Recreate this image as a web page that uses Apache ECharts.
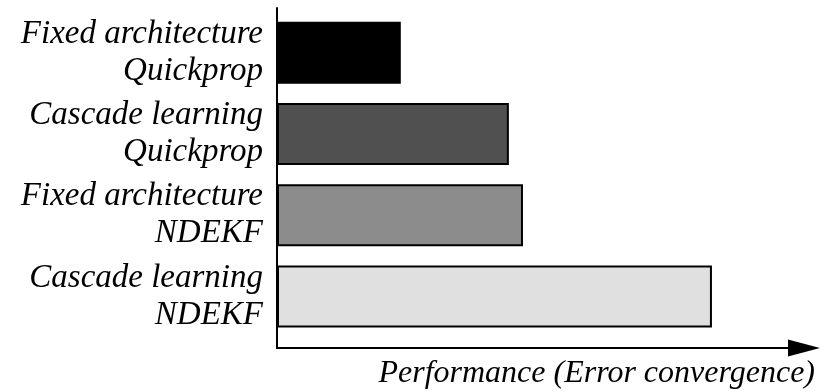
<!DOCTYPE html>
<html>
<head>
<meta charset="utf-8"/>
<title>Performance</title>
<script src="https://cdn.jsdelivr.net/npm/echarts@6/dist/echarts.min.js"></script>
<style>
html, body { margin: 0; padding: 0; background: #fff; }
#chart { width: 831px; height: 391px; }
</style>
</head>
<body>
<div id="chart"></div>
<script>
// methods, top to bottom
var methods = [
    'Fixed architecture\nQuickprop',
    'Cascade learning\nQuickprop',
    'Fixed architecture\nNDEKF',
    'Cascade learning\nNDEKF'
];
// relative performance (axis length = 100)
var perf = [22.8, 42.7, 45.3, 80.1];
var barColors = ['#000000', '#505050', '#8c8c8c', '#e0e0e0'];

var font = '"Liberation Serif", "Times New Roman", serif';

var chart = echarts.init(document.getElementById('chart'));

var option = {
    animation: false,
    grid: [
        // bars
        { left: 277, right: 11, top: 12, bottom: 54 },
        // axis lines only
        { left: 277, right: 27, top: 8, bottom: 43 }
    ],
    xAxis: [
        {
            gridIndex: 0,
            type: 'value',
            min: 0,
            max: 100,
            show: false
        },
        {
            gridIndex: 1,
            type: 'value',
            min: 0,
            max: 100,
            axisLine: {
                show: true,
                symbol: ['none', 'triangle'],
                symbolSize: [17, 32],
                lineStyle: { color: '#000', width: 2 }
            },
            axisTick: { show: false },
            axisLabel: { show: false },
            splitLine: { show: false },
            name: 'Performance (Error convergence)',
            nameLocation: 'end',
            nameGap: 11,
            nameTextStyle: {
                fontFamily: font,
                fontStyle: 'italic',
                fontSize: 32,
                color: '#000',
                align: 'right',
                verticalAlign: 'top',
                padding: [10, 0, 0, 0]
            }
        }
    ],
    yAxis: [
        {
            gridIndex: 0,
            type: 'category',
            inverse: true,
            data: methods,
            axisLine: { show: false },
            axisTick: { show: false },
            splitLine: { show: false },
            axisLabel: {
                margin: 14,
                fontFamily: font,
                fontStyle: 'italic',
                fontSize: 33,
                lineHeight: 37,
                color: '#000',
                align: 'right',
                padding: [0, 0, 6, 0]
            }
        },
        {
            gridIndex: 1,
            type: 'value',
            axisLine: { show: true, lineStyle: { color: '#000', width: 2 } },
            axisTick: { show: false },
            axisLabel: { show: false },
            splitLine: { show: false }
        }
    ],
    series: [
        {
            type: 'bar',
            xAxisIndex: 0,
            yAxisIndex: 0,
            barWidth: 62,
            data: perf.map(function (v, i) {
                return { value: v, itemStyle: { color: barColors[i] } };
            }),
            itemStyle: { borderColor: '#000', borderWidth: 2 }
        }
    ]
};

chart.setOption(option);
</script>
</body>
</html>
